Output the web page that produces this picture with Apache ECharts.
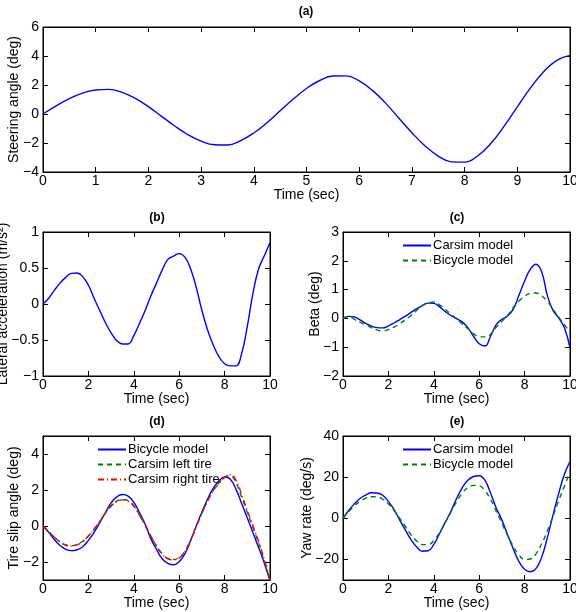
<!DOCTYPE html>
<html lang="en">
<head>
    <meta charset="UTF-8">
    <script type="text/javascript" src="https://cdn.jsdelivr.net/npm/echarts@6/dist/echarts.min.js"></script>
    <title>vehicle model</title>
    <style>
        html, body { margin: 0; padding: 0; background: #fff; }
        #main { width: 576px; height: 612px; }
    </style>
</head>
<body>
<div id="main"></div>
<script type="text/javascript">
    // time grid (sec) shared by all curves
    var time = [0, 0.25, 0.5, 0.75, 1, 1.25, 1.5, 1.75, 2, 2.25, 2.5, 2.75, 3, 3.25, 3.5, 3.75,
        4, 4.25, 4.5, 4.75, 5, 5.25, 5.5, 5.75, 6, 6.25, 6.5, 6.75, 7, 7.25, 7.5, 7.75,
        8, 8.25, 8.5, 8.75, 9, 9.25, 9.5, 9.75, 10];

    // (a) steering angle (deg)
    var steerAngle = [0, 0.56, 1.06, 1.44, 1.66, 1.70, 1.49, 1.08, 0.51, -0.16, -0.83, -1.43, -1.87, -2.12, -2.14, -1.84,
        -1.31, -0.60, 0.22, 1.03, 1.76, 2.31, 2.62, 2.63, 2.28, 1.63, 0.75, -0.27, -1.29, -2.20, -2.90, -3.30,
        -3.32, -2.88, -2.02, -0.84, 0.49, 1.80, 2.92, 3.70, 4.04];

    // (b) lateral acceleration (m/s^2)
    var latAccel = [0, 0.08, 0.19, 0.29, 0.37, 0.425, 0.43, 0.38, 0.26, 0.08, -0.09, -0.26, -0.40, -0.51, -0.555, -0.555,
        -0.44, -0.27, -0.09, 0.11, 0.29, 0.47, 0.62, 0.665, 0.70, 0.65, 0.49, 0.23, -0.09, -0.36, -0.57, -0.73,
        -0.83, -0.86, -0.86, -0.69, -0.31, 0.15, 0.49, 0.67, 0.855];

    // (c) beta (deg)
    var betaCarsim = [0, 0.07, 0.05, -0.05, -0.17, -0.27, -0.32, -0.33, -0.26, -0.16, -0.04, 0.08, 0.21, 0.34, 0.44, 0.53,
        0.52, 0.41, 0.24, 0.10, -0.01, -0.12, -0.32, -0.62, -0.88, -0.96, -0.62, -0.22, -0.03, 0.08, 0.32, 0.80,
        1.30, 1.70, 1.88, 1.62, 0.80, 0.28, 0.02, -0.32, -1.02];
    var betaBicycle = [0, 0.06, -0.03, -0.13, -0.23, -0.32, -0.40, -0.44, -0.39, -0.30, -0.18, -0.05, 0.10, 0.28, 0.45, 0.54,
        0.57, 0.47, 0.31, 0.15, -0.01, -0.19, -0.36, -0.53, -0.64, -0.64, -0.55, -0.31, -0.10, 0.11, 0.38, 0.60,
        0.77, 0.87, 0.88, 0.78, 0.60, 0.32, 0.05, -0.21, -0.48];

    // (d) tire slip angle (deg)
    var slipBicycle = [0, -0.35, -0.75, -1.08, -1.30, -1.37, -1.32, -1.15, -0.80, -0.35, 0.18, 0.75, 1.28, 1.62, 1.75, 1.66,
        1.32, 0.75, 0.10, -0.70, -1.30, -1.82, -2.08, -2.16, -1.98, -1.55, -0.82, 0.00, 0.78, 1.50, 2.10, 2.50,
        2.72, 2.60, 2.05, 1.25, 0.45, -0.38, -1.20, -2.07, -3.05];
    var slipLeft = [0, -0.30, -0.62, -0.88, -1.05, -1.10, -1.03, -0.85, -0.55, -0.18, 0.25, 0.72, 1.12, 1.38, 1.47, 1.40,
        1.12, 0.62, 0.05, -0.55, -1.10, -1.55, -1.80, -1.86, -1.75, -1.40, -0.78, -0.02, 0.72, 1.40, 1.98, 2.40,
        2.70, 2.80, 2.40, 1.60, 0.75, -0.10, -0.95, -1.95, -3.0];
    var slipRight = [0, -0.31, -0.63, -0.90, -1.07, -1.12, -1.05, -0.86, -0.55, -0.17, 0.26, 0.72, 1.10, 1.36, 1.45, 1.38,
        1.10, 0.60, 0.04, -0.56, -1.12, -1.57, -1.83, -1.88, -1.77, -1.42, -0.80, -0.04, 0.70, 1.38, 1.96, 2.35,
        2.70, 2.85, 2.55, 1.75, 0.85, 0.00, -0.85, -1.85, -2.95];

    // (e) yaw rate (deg/s)
    var yawCarsim = [0, 3.8, 7.0, 9.6, 11.3, 12.4, 12.3, 11.2, 8.2, 4.2, -0.9, -5.8, -10.5, -14.0, -16.0, -15.8,
        -12.7, -7.5, -2.0, 3.3, 9.5, 14.8, 18.5, 20.3, 20.7, 18.5, 12.3, 5.0, -0.9, -8.0, -14.8, -21.0,
        -24.8, -26.0, -24.5, -19.0, -9.5, 1.5, 12.0, 21.3, 27.6];
    var yawBicycle = [0, 3.2, 6.0, 8.2, 9.7, 10.5, 10.4, 9.3, 7.0, 3.8, 0.0, -4.0, -8.0, -11.0, -12.8, -12.8,
        -10.8, -7.0, -2.2, 3.0, 8.0, 12.2, 15.0, 16.0, 15.8, 13.5, 9.2, 3.5, -2.5, -8.3, -13.5, -17.8,
        -20.0, -19.8, -17.3, -12.5, -6.2, 1.0, 8.5, 15.5, 22.5];

    var FONT = 'Liberation Sans, Arial, Helvetica, sans-serif';
    var BLUE = '#0000ff', GREEN = '#008000', RED = '#ff0000';

    function pairs(vals) {
        return time.map(function (t, i) { return [t, vals[i]]; });
    }
    function minus(v) {
        return String(v).replace('-', '\u2212');
    }

    // grid boxes: [left, top, width, height]
    var boxes = [
        [43, 27, 527, 145],
        [43, 232, 227, 144],
        [343, 232, 227, 144],
        [43, 436, 227, 144],
        [343, 436, 227, 144]
    ];
    var grids = boxes.map(function (b) {
        return {
            left: b[0], top: b[1], width: b[2], height: b[3],
            containLabel: false, outerBoundsMode: 'none',
            show: true, borderColor: '#000', borderWidth: 1, backgroundColor: '#fff'
        };
    });

    // y settings per plot: min, max, interval or custom ticks, name, nameGap
    var ySet = [
        {min: -4, max: 6, interval: 2, name: 'Steering angle (deg)', gap: 22},
        {min: -1, max: 1, interval: 0.5, name: 'Lateral acceleration (m/s\u00b2)', gap: 33},
        {min: -2, max: 3, interval: 1, name: 'Beta (deg)', gap: 21},
        {min: -3, max: 5, ticks: [-2, 0, 2, 4], name: 'Tire slip angle (deg)', gap: 22},
        {min: -30, max: 40, ticks: [-20, 0, 20, 40], name: 'Yaw rate (deg/s)', gap: 29}
    ];
    var xInterval = [1, 2, 2, 2, 2];

    var xAxes = [], yAxes = [];
    grids.forEach(function (g, i) {
        // bottom axis with labels
        xAxes.push({
            gridIndex: i, type: 'value', min: 0, max: 10, interval: xInterval[i],
            name: 'Time (sec)', nameLocation: 'middle', nameGap: 16, nameMoveOverlap: false,
            nameTextStyle: {color: '#000', fontSize: 14, fontFamily: FONT},
            axisLine: {show: true, onZero: false, lineStyle: {color: '#000'}},
            axisTick: {inside: true, length: 5, lineStyle: {color: '#000'}},
            axisLabel: {color: '#000', fontSize: 14, fontFamily: FONT, margin: 2, formatter: minus},
            splitLine: {show: false}
        });
        // top axis, ticks only
        xAxes.push({
            gridIndex: i, type: 'value', min: 0, max: 10, interval: xInterval[i], position: 'top',
            axisLine: {show: true, onZero: false, lineStyle: {color: '#000'}},
            axisTick: {inside: true, length: 5, lineStyle: {color: '#000'}},
            axisLabel: {show: false}, splitLine: {show: false}
        });
        var s = ySet[i];
        var yMain = {
            gridIndex: i, type: 'value', min: s.min, max: s.max,
            name: s.name, nameLocation: 'middle', nameGap: s.gap, nameMoveOverlap: false,
            nameTextStyle: {color: '#000', fontSize: 14, fontFamily: FONT},
            axisLine: {show: true, onZero: false, lineStyle: {color: '#000'}},
            axisTick: {inside: true, length: 5, lineStyle: {color: '#000'}},
            axisLabel: {color: '#000', fontSize: 14, fontFamily: FONT, margin: 4, formatter: minus},
            splitLine: {show: false}
        };
        var yRight = {
            gridIndex: i, type: 'value', min: s.min, max: s.max, position: 'right',
            axisLine: {show: true, onZero: false, lineStyle: {color: '#000'}},
            axisTick: {inside: true, length: 5, lineStyle: {color: '#000'}},
            axisLabel: {show: false}, splitLine: {show: false}
        };
        if (s.ticks) {
            yMain.interval = 1;
            yMain.axisTick.customValues = s.ticks;
            yMain.axisLabel.customValues = s.ticks;
            yRight.interval = 1;
            yRight.axisTick.customValues = s.ticks;
        } else {
            yMain.interval = s.interval;
            yRight.interval = s.interval;
        }
        yAxes.push(yMain);
        yAxes.push(yRight);
    });

    function line(name, grid, vals, color, type) {
        return {
            name: name, type: 'line', xAxisIndex: grid * 2, yAxisIndex: grid * 2,
            data: pairs(vals), symbol: 'none', smooth: 0.45, clip: true,
            lineStyle: {color: color, width: 1.4, type: type || 'solid'},
            itemStyle: {color: color},
            animation: false
        };
    }

    var series = [
        line('Steering angle', 0, steerAngle, BLUE),
        line('Lateral acceleration', 1, latAccel, BLUE),
        line('Carsim model', 2, betaCarsim, BLUE),
        line('Bicycle model', 2, betaBicycle, GREEN, [5, 4]),
        line('Bicycle model ', 3, slipBicycle, BLUE),
        line('Carsim left tire', 3, slipLeft, GREEN, [5, 4]),
        line('Carsim right tire', 3, slipRight, RED, [6, 3, 1, 3]),
        line('Carsim model', 4, yawCarsim, BLUE),
        line('Bicycle model', 4, yawBicycle, GREEN, [5, 4])
    ];

    function legend(names, left, top) {
        return {
            data: names, left: left, top: top, orient: 'vertical',
            itemWidth: 28, itemHeight: 12, itemGap: 2,
            itemStyle: {opacity: 0},
            textStyle: {color: '#000', fontSize: 13, fontFamily: FONT, padding: [0, 0, 0, -3]},
            selectedMode: false, backgroundColor: 'transparent'
        };
    }

    var titles = [['(a)', 306, 12], ['(b)', 157, 218], ['(c)', 457, 218], ['(d)', 157, 422], ['(e)', 457, 422]];

    var chart = echarts.init(document.getElementById('main'), null, {renderer: 'canvas'});
    chart.setOption({
        backgroundColor: '#fff',
        animation: false,
        grid: grids,
        xAxis: xAxes,
        yAxis: yAxes,
        legend: [
            legend(['Carsim model', 'Bicycle model'], 397, 234),
            legend(['Bicycle model ', 'Carsim left tire', 'Carsim right tire'], 92, 438),
            legend(['Carsim model', 'Bicycle model'], 397, 438)
        ],
        graphic: titles.map(function (t) {
            return {
                type: 'text', x: t[1], y: t[2],
                style: {text: t[0], font: 'bold 12px ' + FONT, fill: '#000', textAlign: 'center', textVerticalAlign: 'middle'}
            };
        }),
        series: series
    });
</script>
</body>
</html>
